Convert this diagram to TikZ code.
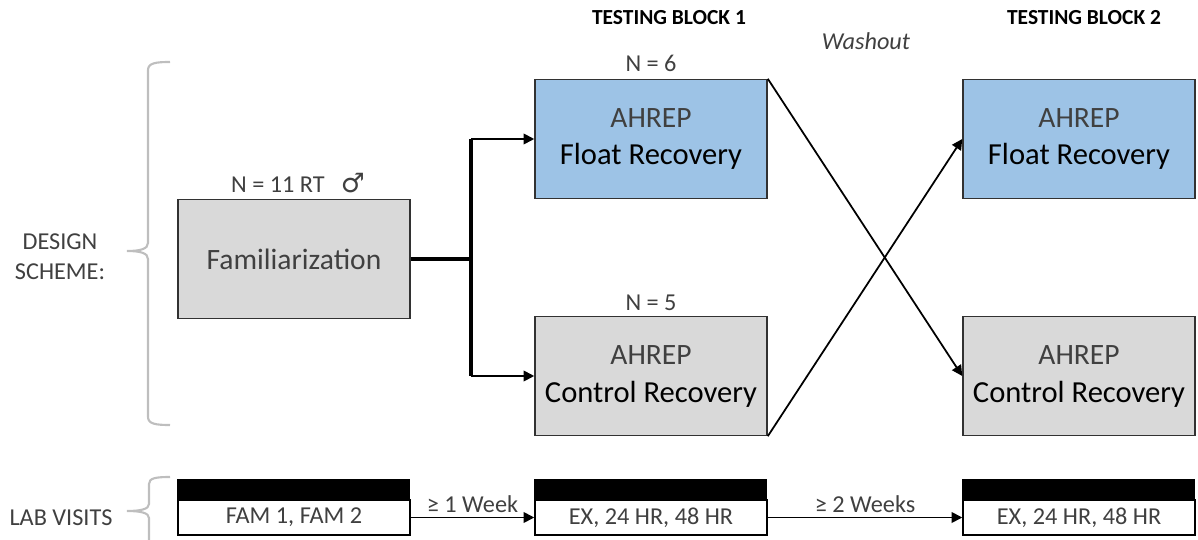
\documentclass[tikz,border=0pt]{standalone}
\usepackage{fontspec}
\setmainfont{Carlito}
\newfontfamily\symfont{DejaVu Sans}
\usetikzlibrary{arrows.meta}
\definecolor{txt}{RGB}{64,64,64}
\definecolor{boxline}{RGB}{50,50,50}
\definecolor{floatfill}{RGB}{157,195,230}
\definecolor{ctrlfill}{RGB}{217,217,217}
\definecolor{bracecol}{RGB}{190,190,190}
\newcommand{\grp}[1]{\textcolor{txt}{AHREP}\\{\fontsize{8.7}{10.8}\selectfont #1}}
\tikzset{
  box/.style={draw=boxline, line width=0.4pt, minimum width=2.32cm, minimum height=1.19cm,
    inner sep=0pt, align=center, font=\fontsize{8.4}{10.8}\selectfont},
  labbox/.style={draw=black, line width=0.4pt, fill=white, minimum width=2.32cm, minimum height=0.35cm,
    inner sep=0pt, text=txt, font=\fontsize{6.9}{8}\selectfont},
  lbl/.style={text=txt, inner sep=1pt, font=\fontsize{6.9}{8.5}\selectfont},
  title/.style={inner sep=1pt, font=\fontsize{6.1}{8}\selectfont\bfseries},
  fork/.style={line width=1.2pt},
  link/.style={->, line width=0.5pt},
  brace/.style={draw=bracecol, line width=0.6pt}
}
\begin{document}
\begin{tikzpicture}[x=0.01cm, y=-0.01cm, >={Triangle[length=3pt,width=3pt]}]
    \useasboundingbox (0,0) rectangle (1198,540);
    % design scheme
    \node[box, fill=ctrlfill, text=txt] (A0_0) at (294,259) {Familiarization};
    \node[box, fill=floatfill] (A1_0) at (651,139) {\grp{Float Recovery}};
    \node[box, fill=ctrlfill] (A1_1) at (651,376) {\grp{Control Recovery}};
    \node[box, fill=floatfill] (A2_0) at (1079,139) {\grp{Float Recovery}};
    \node[box, fill=ctrlfill] (A2_1) at (1079,376) {\grp{Control Recovery}};
    \node[lbl] (N0) at (298,183) {N = 11 RT\enspace\,{\symfont\fontsize{7.6}{8}\selectfont ♂}};
    \node[lbl] (N1) at (651,63) {N = 6};
    \node[lbl] (N2) at (651,303) {N = 5};
    \node[title] (T1) at (669,18) {TESTING BLOCK 1};
    \node[title] (T2) at (1084,18) {TESTING BLOCK 2};
    \node[lbl, font=\fontsize{6.9}{8}\selectfont\itshape] (W) at (866,41) {Washout};
    \coordinate (J0) at (471,259);
    \coordinate (J1) at (471,139);
    \coordinate (J2) at (471,376);
    \draw[fork] (A0_0) -- (J0);
    \draw[fork] (J1) -- (J2);
    \path (J1) edge [link] (A1_0);
    \path (J2) edge [link] (A1_1);
    \path (A1_0.north east) edge [link] (A2_1.west);
    \path (A1_1.south east) edge [link] (A2_0.west);
    % lab visits
    \node[labbox] (B0) at (294,517.5) {FAM 1, FAM 2};
    \node[labbox] (B1) at (651,517.5) {EX, 24 HR, 48 HR};
    \node[labbox] (B2) at (1079,517.5) {EX, 24 HR, 48 HR};
    \foreach \b in {B0,B1,B2}
      \draw[fill=black, line width=0.4pt] (\b.north west) rectangle ++(232,-20);
    \path (B0) edge [link] node [lbl, above] {≥ 1 Week} (B1);
    \path (B1) edge [link] node [lbl, above] {≥ 2 Weeks} (B2);
    % left labels and braces
    \node[lbl, align=center] (DS) at (60,257) {DESIGN\\SCHEME:};
    \node[lbl] (LV) at (61,518) {LAB VISITS};
    \draw[brace] (170,62) .. controls (156,62) and (148,63) .. (148,70) -- (148,243)
      .. controls (148,249) and (140,251) .. (127,251)
      .. controls (140,251) and (148,253) .. (148,259) -- (148,417)
      .. controls (148,424) and (156,425) .. (170,425);
    \draw[brace] (170,477) .. controls (156,477) and (149,478) .. (149,484) -- (149,504)
      .. controls (149,509) and (141,511) .. (127,511)
      .. controls (141,511) and (149,513) .. (149,518) -- (149,545);
\end{tikzpicture}
\end{document}
